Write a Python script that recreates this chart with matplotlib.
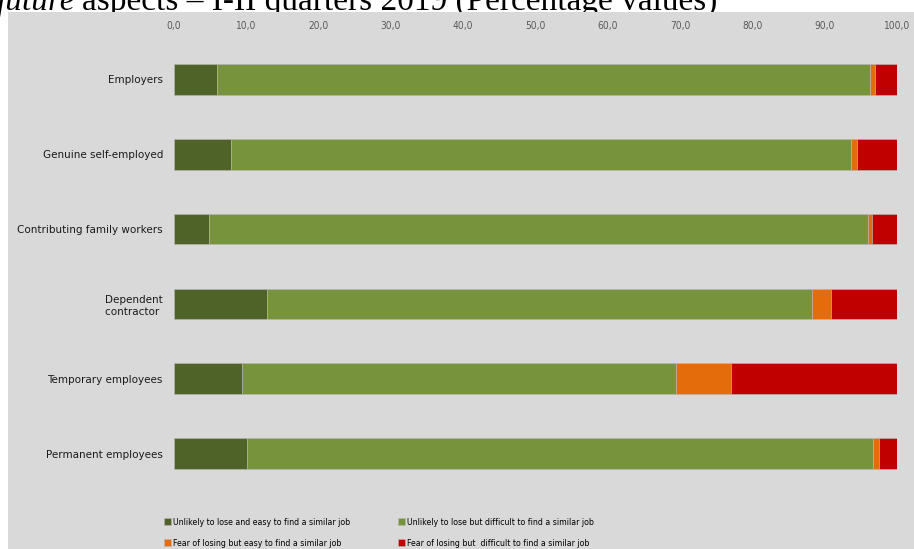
import matplotlib
matplotlib.use("Agg")
import matplotlib.pyplot as plt
from matplotlib.patches import Rectangle
import numpy as np

# Categories (top to bottom)
categories = ["Employers", "Genuine self-employed", "Contributing family workers",
              "Dependent\ncontractor ", "Temporary employees", "Permanent employees"]

# Shares (%) per answer
easy_unlikely = [5.9, 7.9, 4.8, 12.9, 9.4, 10.1]
hard_unlikely = [90.4, 85.8, 91.2, 75.4, 60.0, 86.6]
easy_fear = [0.7, 0.8, 0.5, 2.6, 7.6, 0.8]
hard_fear = [3.0, 5.5, 3.5, 9.1, 23.0, 2.5]

series_names = ["Unlikely to lose and easy to find a similar job",
                "Unlikely to lose but difficult to find a similar job",
                "Fear of losing but easy to find a similar job",
                "Fear of losing but  difficult to find a similar job"]
colors = ["#4f6228", "#77933c", "#e46c0a", "#c00000"]

bg = "#d9d9d9"

fig = plt.figure(figsize=(9.14, 5.49), dpi=100)
fig.patches.append(Rectangle((8 / 914, 0), 1, 1 - 12 / 549, transform=fig.transFigure,
                             facecolor=bg, edgecolor="none", zorder=-1))

ax = fig.add_axes([174 / 914, 1 - 491 / 549, (897 - 174) / 914, (491 - 42) / 549])
ax.patch.set_alpha(0)

y = np.arange(len(categories))
left = np.zeros(len(categories))
handles = []
for vals, col, name in zip([easy_unlikely, hard_unlikely, easy_fear, hard_fear], colors, series_names):
    b = ax.barh(y, vals, left=left, height=0.41, color=col, edgecolor="#b8b8b8",
                linewidth=0.4, label=name)
    handles.append(b)
    left = left + np.array(vals)

ax.set_xlim(0, 100)
ax.set_ylim(len(categories) - 0.5, -0.5)
ax.set_xticks(np.arange(0, 101, 10))
ax.set_xticklabels([f"{v:.1f}".replace(".", ",") for v in np.arange(0, 101, 10)])
ax.xaxis.tick_top()
ax.tick_params(axis="x", length=0, pad=8, labelsize=7.3, labelcolor="#595959")
for lab in ax.get_xticklabels():
    lab.set_fontstretch("condensed")
ax.set_yticks(y)
ax.set_yticklabels(categories, multialignment="center")
ax.tick_params(axis="y", length=0, pad=8, labelsize=7.5, labelcolor="#1a1a1a")
for s in ax.spines.values():
    s.set_visible(False)

order = [0, 2, 1, 3]
leg = fig.legend([handles[i] for i in order], [series_names[i] for i in order],
                 ncol=2, loc="upper left", bbox_to_anchor=(156 / 914, 1 - 510 / 549),
                 frameon=False, handlelength=0.85, handleheight=0.85, handletextpad=0.15,
                 columnspacing=5.5, labelspacing=1.35,
                 prop={"family": "DejaVu Sans", "stretch": "condensed", "size": 6.3})

# cut-off title at the top
t1 = fig.text(-3 / 914, 1 - 10 / 549, "future", fontsize=24, style="italic",
              family="Liberation Serif", va="baseline", ha="left", zorder=-2)
fig.canvas.draw()
bb = t1.get_window_extent()
fig.text(bb.x1 / 914 + 0.007, 1 - 10 / 549, "aspects \u2013 I-II quarters 2019 (Percentage values)",
         fontsize=24, family="Liberation Serif", va="baseline", ha="left", zorder=-2)

fig.savefig("out.png", dpi=100)
